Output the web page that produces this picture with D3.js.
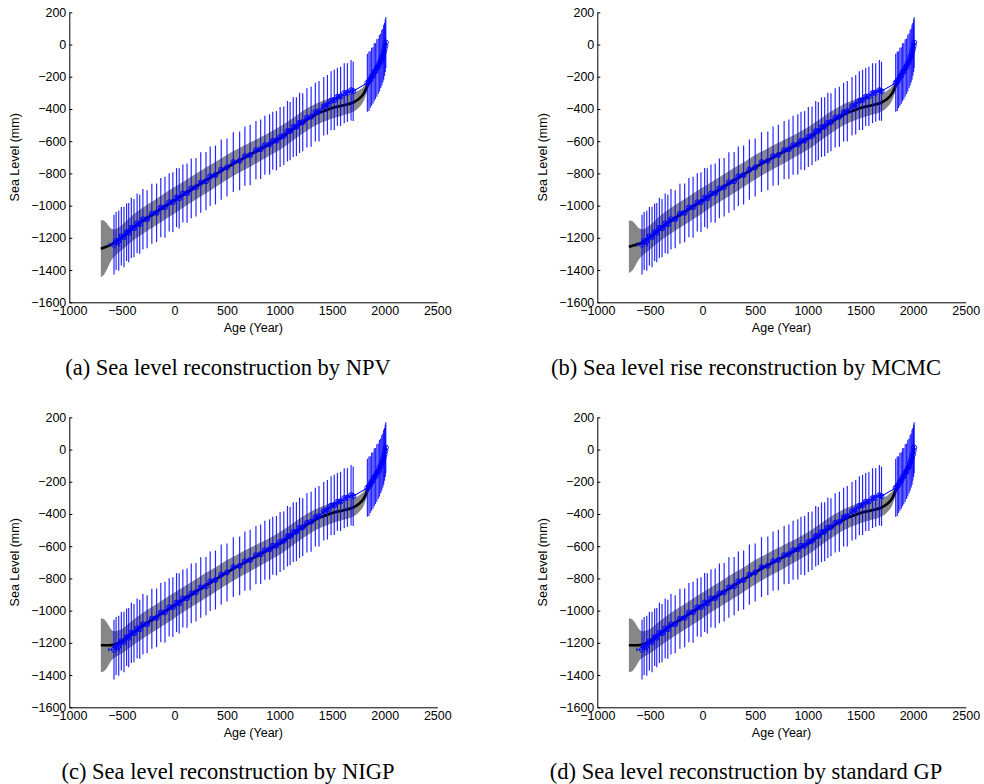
<!DOCTYPE html>
<html><head><meta charset="utf-8">
<script src="https://cdn.jsdelivr.net/npm/d3@7"></script>
<style>body{margin:0;background:#fff}</style>
</head><body>
<svg id="c" width="984" height="784"></svg>
<script>
// ---- observed data (same in every panel) ----
const ages = [-575,-555,-530,-505,-480,-455,-435,-410,-385,-355,-330,-300,-260,-215,-170,-130,-90,-50,-15,20,
  45,80,120,160,205,250,300,340,390,445,500,560,620,670,720,775,820,860,905,935,
  970,1005,1040,1075,1100,1130,1160,1190,1220,1260,1300,1340,1375,1420,1455,1490,1520,1550,1580,1615,
  1645,1680,1700,1835,1850,1862,1875,1888,1900,1912,1925,1938,1950,1962,1972,1982,1990,1998,2005,2010];
const levels = [-1242,-1220,-1218,-1190,-1195,-1165,-1168,-1138,-1140,-1110,-1115,-1085,-1084,-1050,-1045,-1012,-1010,-980,-978,-950,
  -955,-925,-922,-893,-886,-856,-848,-818,-810,-776,-763,-730,-722,-693,-686,-656,-650,-625,-620,-598,
  -597,-574,-566,-538,-537,-513,-510,-486,-482,-455,-448,-420,-414,-383,-374,-349,-344,-325,-322,-302,
  -298,-284,-290,-238,-228,-218,-200,-192,-172,-165,-146,-135,-116,-102,-82,-68,-48,-30,-8,12];
const levelErr = [185,180,186,182,188,179,184,187,181,185,183,188,180,186,182,184,189,181,185,183,
  187,180,184,186,182,188,181,185,183,187,180,186,182,184,188,181,185,183,187,180,
  184,186,182,188,181,185,183,187,180,184,186,182,188,181,185,183,187,180,184,186,
  182,188,184,180,184,176,180,175,180,174,178,172,176,170,172,168,170,164,162,158];
const ageErr = [50,25,20,15,18,12,14,10,16,12,10,14,12,10,12,10,8,12,10,8,
  10,8,12,10,8,10,8,10,8,10,8,10,8,10,8,10,8,10,8,10,
  8,10,8,10,8,10,8,10,8,10,8,10,8,10,8,10,8,10,8,10,
  8,10,8,5,4,5,4,5,4,5,4,5,4,5,4,5,4,5,4,5];

// ---- posterior fits ----
const fitAges = [-700,-680,-660,-640,-620,-600,-570,-500,-400,-300,-200,-100,0,100,200,300,400,500,600,700,
  800,900,1000,1100,1200,1300,1400,1450,1500,1600,1700,1750,1800,1850,1900,1950,1990,2010];
const meanNPV = [-1267,-1263,-1258,-1253,-1248,-1241,-1231,-1198,-1140,-1093,-1051,-1009,-967,-925,-884,-843,-803,-762,-725,-690,
  -655,-620,-583,-538,-492,-450,-418,-406,-394,-378,-360,-340,-305,-232,-172,-115,-55,12];
const sdNPV = [176,172,160,140,118,98,84,78,80,82,82,82,82,80,80,80,78,78,76,76,
  74,72,72,70,70,68,66,66,65,62,58,54,45,28,22,20,17,15];
const meanMCMC = [-1255,-1252,-1248,-1244,-1240,-1236,-1228,-1197,-1140,-1093,-1051,-1009,-967,-925,-884,-843,-803,-762,-725,-690,
  -655,-620,-583,-538,-492,-450,-418,-406,-394,-378,-360,-340,-305,-232,-172,-115,-55,12];
const sdMCMC = [162,158,148,130,110,94,82,76,78,80,80,80,80,78,78,78,76,76,74,74,
  72,70,70,68,68,66,64,64,63,60,56,52,44,27,21,19,16,14];
const meanNIGP = [-1215,-1215,-1215,-1215,-1215,-1214,-1210,-1190,-1140,-1093,-1051,-1009,-967,-925,-884,-843,-803,-762,-725,-690,
  -655,-620,-583,-538,-492,-450,-418,-406,-394,-378,-360,-340,-305,-232,-172,-115,-55,12];
const sdNIGP = [166,164,155,138,116,96,82,76,78,80,80,80,80,78,78,78,76,76,74,74,
  72,70,70,68,68,66,64,64,63,60,56,52,44,27,21,19,16,14];
const meanGP = [-1215,-1215,-1215,-1215,-1215,-1214,-1210,-1190,-1140,-1093,-1051,-1009,-967,-925,-884,-843,-803,-762,-725,-690,
  -655,-620,-583,-538,-492,-450,-418,-406,-394,-378,-360,-340,-305,-232,-172,-115,-55,12];
const sdGP = [166,164,155,138,116,96,82,76,78,80,80,80,80,78,78,78,76,76,74,74,
  72,70,70,68,68,66,64,64,63,60,56,52,44,27,21,19,16,14];

const xTicks = [-1000,-500,0,500,1000,1500,2000,2500];
const yTicks = [200,0,-200,-400,-600,-800,-1000,-1200,-1400,-1600];
const captions = ["(a) Sea level reconstruction by NPV","(b) Sea level rise reconstruction by MCMC",
  "(c) Sea level reconstruction by NIGP","(d) Sea level reconstruction by standard GP"];
const xLabel = "Age (Year)";
const yLabel = "Sea Level (mm)";

// ---- layout ----
const panels = [
  {x0:69.3, x1:437.3, y0:12.3, y1:302.3, mean:meanNPV, sd:sdNPV, cap:captions[0], cx:228, cy:375},
  {x0:597.3, x1:965.7, y0:12.3, y1:302.3, mean:meanMCMC, sd:sdMCMC, cap:captions[1], cx:746, cy:375},
  {x0:69.3, x1:437.3, y0:417.3, y1:707.3, mean:meanNIGP, sd:sdNIGP, cap:captions[2], cx:228, cy:779},
  {x0:597.3, x1:965.7, y0:417.3, y1:707.3, mean:meanGP, sd:sdGP, cap:captions[3], cx:746, cy:779}
];
const svg = d3.select("#c");
const sans = "'Liberation Sans', Arial, Helvetica, sans-serif";
const fs = 12.5;

panels.forEach(p => {
  const x = d3.scaleLinear().domain([-1000,2500]).range([p.x0,p.x1]);
  const y = d3.scaleLinear().domain([-1600,200]).range([p.y1,p.y0]);
  const g = svg.append("g");
  const fit = fitAges.map((a,i)=>({a, m:p.mean[i], s:p.sd[i]}));
  g.append("path").datum(fit)
    .attr("d", d3.area().x(d=>x(d.a)).y0(d=>y(d.m-d.s)).y1(d=>y(d.m+d.s)).curve(d3.curveMonotoneX))
    .attr("fill","#878787");
  g.append("path").datum(fit)
    .attr("d", d3.line().x(d=>x(d.a)).y(d=>y(d.m)).curve(d3.curveMonotoneX))
    .attr("fill","none").attr("stroke","#000").attr("stroke-width",2.6);
  const obs = ages.map((a,i)=>({a, v:levels[i], e:levelErr[i], h:ageErr[i]}));
  g.append("g").selectAll("line").data(obs).join("line")
    .attr("x1",d=>x(d.a)).attr("x2",d=>x(d.a))
    .attr("y1",d=>y(d.v-d.e)).attr("y2",d=>y(d.v+d.e))
    .attr("stroke","#0000ff").attr("stroke-width",1.2).attr("stroke-opacity",0.85);
  const hb = g.append("g").attr("stroke","#0000ff").attr("stroke-width",0.8);
  hb.selectAll("line.h").data(obs).join("line").attr("class","h")
    .attr("x1",d=>x(d.a-d.h)).attr("x2",d=>x(d.a+d.h)).attr("y1",d=>y(d.v)).attr("y2",d=>y(d.v));
  hb.selectAll("line.l").data(obs).join("line").attr("class","l")
    .attr("x1",d=>x(d.a-d.h)).attr("x2",d=>x(d.a-d.h)).attr("y1",d=>y(d.v)-2).attr("y2",d=>y(d.v)+2);
  hb.selectAll("line.r").data(obs).join("line").attr("class","r")
    .attr("x1",d=>x(d.a+d.h)).attr("x2",d=>x(d.a+d.h)).attr("y1",d=>y(d.v)-2).attr("y2",d=>y(d.v)+2);
  g.append("path").datum(obs)
    .attr("d", d3.line().x(d=>x(d.a)).y(d=>y(d.v)))
    .attr("fill","none").attr("stroke","#0000ff").attr("stroke-width",1.1);
  g.append("g").selectAll("circle").data(obs).join("circle")
    .attr("cx",d=>x(d.a)).attr("cy",d=>y(d.v)).attr("r",2.6)
    .attr("fill","none").attr("stroke","#0000ff").attr("stroke-width",0.9);

  const fmt = d=>d3.format("d")(d).replace("-","\u2212");
  const xa = g.append("g").attr("transform",`translate(0,${p.y1})`)
    .call(d3.axisBottom(x).tickValues(xTicks).tickSize(0).tickPadding(4).tickFormat(fmt));
  const ya = g.append("g").attr("transform",`translate(${p.x0},0)`)
    .call(d3.axisLeft(y).tickValues(yTicks).tickSizeInner(-3).tickSizeOuter(0).tickPadding(3).tickFormat(fmt));
  [xa,ya].forEach(a=>{
    a.select(".domain").attr("stroke","#000").attr("stroke-width",1);
    a.selectAll(".tick line").attr("stroke","#000");
    a.selectAll("text").attr("font-family",sans).attr("font-size",fs).attr("fill","#000");
  });
  g.append("text").attr("x",(p.x0+p.x1)/2).attr("y",p.y1+30)
    .attr("text-anchor","middle").attr("font-family",sans).attr("font-size",fs).text(xLabel);
  g.append("text").attr("transform",`translate(${p.x0-50},${(p.y0+p.y1)/2})rotate(-90)`)
    .attr("text-anchor","middle").attr("font-family",sans).attr("font-size",fs).text(yLabel);
  svg.append("text").attr("x",p.cx).attr("y",p.cy).attr("text-anchor","middle")
    .attr("font-family","'Liberation Serif','Times New Roman',serif").attr("font-size",22.5).text(p.cap);
});
</script>
</body></html>
